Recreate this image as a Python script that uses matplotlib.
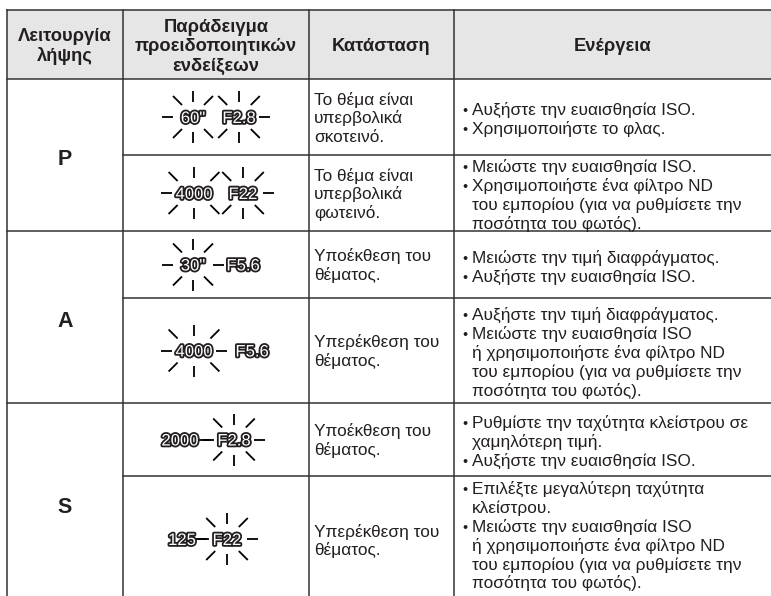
import matplotlib.pyplot as plt
import matplotlib.patheffects as pe
from matplotlib.patches import Rectangle

plt.rcParams['font.family'] = ['Liberation Sans', 'DejaVu Sans']

# table content
headers = ['Λειτουργία\nλήψης', 'Παράδειγμα\nπροειδοποιητικών\nενδείξεων',
           'Κατάσταση', 'Ενέργεια']
modes = ['P', 'A', 'S']
states = [
    'Το θέμα είναι\nυπερβολικά\nσκοτεινό.',
    'Το θέμα είναι\nυπερβολικά\nφωτεινό.',
    'Υποέκθεση του\nθέματος.',
    'Υπερέκθεση του\nθέματος.',
    'Υποέκθεση του\nθέματος.',
    'Υπερέκθεση του\nθέματος.',
]
actions = [
    ['Αυξήστε την ευαισθησία ISO.', 'Χρησιμοποιήστε το φλας.'],
    ['Μειώστε την ευαισθησία ISO.',
     'Χρησιμοποιήστε ένα φίλτρο ND\nτου εμπορίου (για να ρυθμίσετε την\nποσότητα του φωτός).'],
    ['Μειώστε την τιμή διαφράγματος.', 'Αυξήστε την ευαισθησία ISO.'],
    ['Αυξήστε την τιμή διαφράγματος.',
     'Μειώστε την ευαισθησία ISO\nή χρησιμοποιήστε ένα φίλτρο ND\nτου εμπορίου (για να ρυθμίσετε την\nποσότητα του φωτός).'],
    ['Ρυθμίστε την ταχύτητα κλείστρου σε\nχαμηλότερη τιμή.', 'Αυξήστε την ευαισθησία ISO.'],
    ['Επιλέξτε μεγαλύτερη ταχύτητα\nκλείστρου.',
     'Μειώστε την ευαισθησία ISO\nή χρησιμοποιήστε ένα φίλτρο ND\nτου εμπορίου (για να ρυθμίσετε την\nποσότητα του φωτός).'],
]
ind_labels = [['60"', 'F2.8'], ['4000', 'F22'], ['30"', 'F5.6'],
              ['4000', 'F5.6'], ['2000', 'F2.8'], ['125', 'F22']]
ind_flash = [[True, True], [True, True], [True, False],
             [True, False], [False, True], [False, True]]

# layout (pixels)
W, H = 771, 596
col_x = [7, 123, 309, 454, 780]
row_y = [10, 79, 155, 231, 298, 403, 476, 604]
mode_span = [(1, 3), (3, 5), (5, 7)]
ind_x = [[193, 239], [194, 243], [193, 243], [194, 252], [180, 234], [182, 227]]
act_shift = [1.5, 1.5, 1.5, 1.5, 1.5, -5]
LINE = '#333333'
INK = '#231f20'
BODY = 12.4
HEAD = 13.2
LS = 18.5
LS_ACT = 18.9

fig = plt.figure(figsize=(7.71, 5.96), dpi=100)
ax = fig.add_axes([0, 0, 1, 1])
ax.set_xlim(0, W)
ax.set_ylim(H, 0)
ax.axis('off')

ax.add_patch(Rectangle((col_x[0], row_y[0]), W, row_y[1] - row_y[0],
                       facecolor='#e6e6e6', edgecolor='none', zorder=0))

# grid lines
for y in [row_y[0], row_y[1], row_y[3], row_y[5]]:
    ax.plot([col_x[0], W + 5], [y, y], color=LINE, lw=1.1)
for y in [row_y[2], row_y[4], row_y[6]]:
    ax.plot([col_x[1], W + 5], [y, y], color=LINE, lw=1.1)
for x in col_x[:4]:
    ax.plot([x, x], [row_y[0], H + 5], color=LINE, lw=1.1)


def block(x, yc, lines, size, ls, ha='left', weight='normal'):
    em = size * 100 / 72
    n = len(lines)
    for i, s in enumerate(lines):
        y = yc + (i - (n - 1) / 2) * ls
        ax.text(x, y + 0.36 * em, s, fontsize=size, ha=ha, va='baseline',
                color=INK, fontweight=weight)


# header
hc = (row_y[0] + row_y[1]) / 2
for j, h in enumerate(headers):
    block((col_x[j] + min(col_x[j + 1], W)) / 2, hc, h.split('\n'),
          HEAD, 19.5, ha='center', weight='bold')

# mode letters
for m, (a, b) in zip(modes, mode_span):
    block((col_x[0] + col_x[1]) / 2, (row_y[a] + row_y[b]) / 2 + 2,
          [m], 15.5, LS, ha='center', weight='bold')

# states and actions
for i in range(6):
    yc = (row_y[i + 1] + row_y[i + 2]) / 2
    block(col_x[2] + 5, yc, states[i].split('\n'), BODY, LS)
    lines, bullets = [], []
    for item in actions[i]:
        parts = item.split('\n')
        bullets.append(len(lines))
        lines += parts
    n = len(lines)
    em = BODY * 100 / 72
    for k, s in enumerate(lines):
        y = yc + act_shift[i] + (k - (n - 1) / 2) * LS_ACT + 0.36 * em
        ax.text(col_x[3] + 18, y, s, fontsize=BODY, va='baseline', color=INK)
        if k in bullets:
            ax.text(col_x[3] + 11, y, '•', fontsize=BODY - 2, ha='center',
                    va='baseline', color=INK)


def burst(cx, cy, hw, left, right):
    segs = [((0, -26), (0, -15)), ((0, 15), (0, 26))]
    dx = max(hw - 2, 11)
    for sx in (-1, 1):
        for sy in (-1, 1):
            segs.append(((sx * dx, sy * 12), (sx * (dx + 9), sy * 21)))
    hx = max(hw + 4, 20)
    if left:
        segs.append(((-hx, 0), (-hx - 11, 0)))
    if right:
        segs.append(((hx, 0), (hx + 11, 0)))
    for (x0, y0), (x1, y1) in segs:
        ax.plot([cx + x0, cx + x1], [cy + y0, cy + y1], color='black',
                lw=1.3, solid_capstyle='butt')


# warning indications
outline = [pe.withStroke(linewidth=2.6, foreground=INK)]
for i in range(6):
    yc = (row_y[i + 1] + row_y[i + 2]) / 2
    if i == 5:
        yc = 539
    labs = ind_labels[i]
    fl = ind_flash[i]
    for k, lab in enumerate(labs):
        x = ind_x[i][k]
        ax.text(x, yc + 6, lab, fontsize=12, ha='center', va='baseline',
                color='white', path_effects=outline)
        hw = len(lab.replace('.', '').replace('"', '')) * 4.6
        if fl[k]:
            left = k == 0 or not fl[k - 1]
            right = k == len(labs) - 1 or not fl[k + 1]
            burst(x, yc, hw, left, right)
        elif k == 0:
            ax.plot([x + hw + 1, x + hw + 12], [yc, yc], color='black', lw=1.3)

fig.savefig('out.png', dpi=100)
